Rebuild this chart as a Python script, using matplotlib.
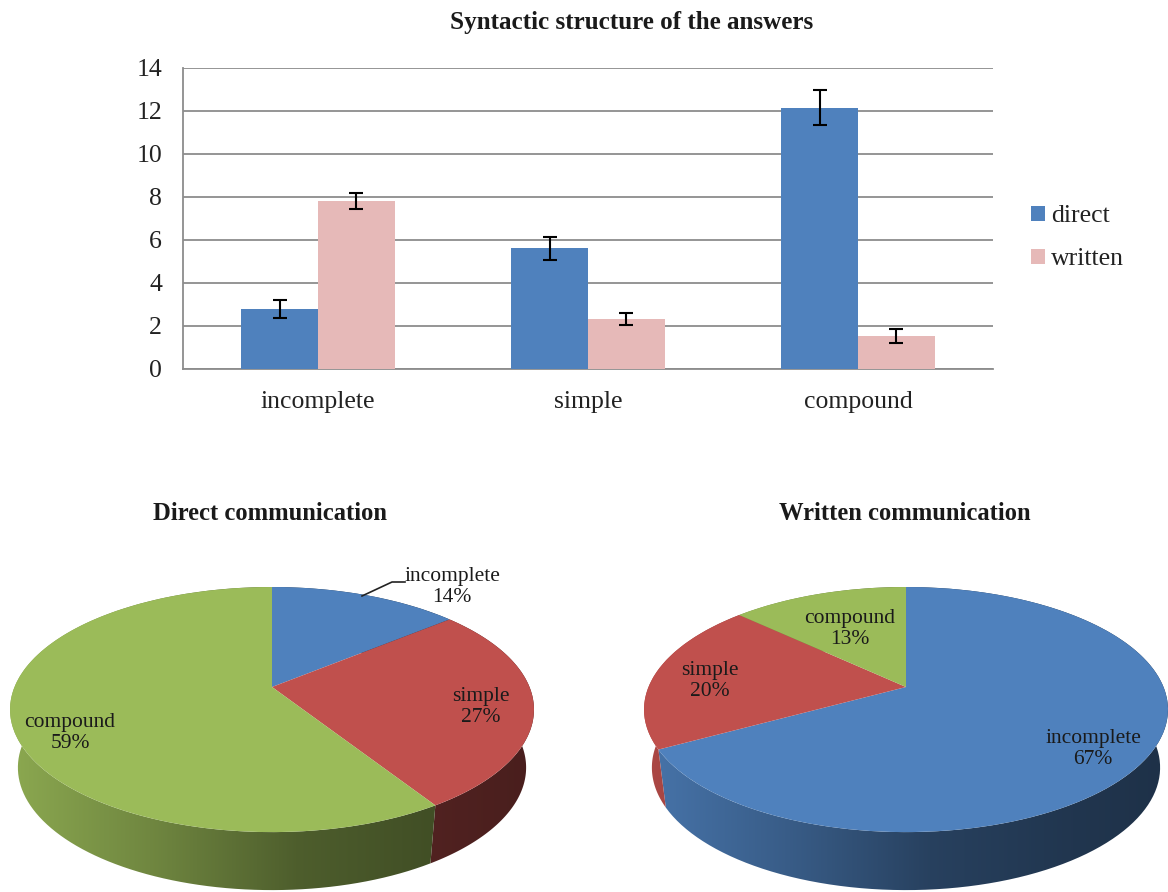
import numpy as np
import matplotlib
matplotlib.use("Agg")
import matplotlib.pyplot as plt
from matplotlib.patches import Polygon
from matplotlib.transforms import Transform

categories = ["incomplete", "simple", "compound"]
direct_values = [2.78, 5.6, 12.15]
written_values = [7.82, 2.33, 1.55]
direct_err = [0.41, 0.54, 0.81]
written_err = [0.37, 0.28, 0.33]
direct_share = [14, 27, 59]
written_share = [67, 20, 13]

BLUE = "#4f81bd"
RED = "#c0504d"
GREEN = "#9bbb59"
PINK = "#e6b9b8"
GRID = "#8c8c8c"
W, H = 1168, 892

plt.rcParams["font.family"] = ["Liberation Serif", "DejaVu Serif"]


class PiePerspective(Transform):
    """Tilts a unit-circle pie into pixel coordinates, far edge foreshortened."""
    input_dims = 2
    output_dims = 2
    has_inverse = False

    def __init__(self, cx, cy, a=257.5, b=118.4, k=0.184):
        super().__init__()
        self.cx, self.cy, self.a, self.b, self.k = cx, cy, a, b, k

    def transform_non_affine(self, values):
        values = np.asarray(values, dtype=float)
        w = 1 + self.k * values[:, 1]
        return np.column_stack((self.cx + self.a * values[:, 0] / w,
                                self.cy - self.b * values[:, 1] / w))


def draw_wall(ax, persp, start, stop, color):
    # outer side of one slice, shaded darker towards the right
    theta = np.radians(np.linspace(start, stop, 120))
    rim = np.column_stack((np.sin(theta), np.cos(theta)))
    top = persp.transform_non_affine(rim)
    low = persp.transform_non_affine(rim * [0.97, 1.0]) + [0, 58]
    clip = Polygon(np.vstack((top, low[::-1])), closed=True, transform=ax.transData)

    rel = np.linspace(0, 1, 256)
    shade = np.interp(rel, [0, 0.27, 0.55, 0.81, 1], [0.9, 0.72, 0.5, 0.42, 0.38])
    rgb = np.outer(shade, matplotlib.colors.to_rgb(color)).reshape(1, 256, 3)
    left, right = persp.cx - 262, persp.cx + 262
    im = ax.imshow(rgb, extent=(left, right, H + 40, persp.cy - 130),
                   aspect="auto", interpolation="bilinear", zorder=0)
    im.set_clip_path(clip)


def draw_pie(ax, cx, cy, shares, colors):
    persp = PiePerspective(cx, cy)
    edges = np.cumsum([0] + shares) * 3.6
    for i, color in enumerate(colors):
        draw_wall(ax, persp, edges[i], edges[i + 1], color)
    wedges, _ = ax.pie(shares, colors=colors, startangle=90, counterclock=False)
    for wedge in wedges:
        wedge.set_transform(persp + ax.transData)
        wedge.set_clip_on(False)


fig = plt.figure(figsize=(W / 100, H / 100), dpi=100)

# bar chart on top
ax = fig.add_axes([183 / W, 1 - 369 / H, 810 / W, (369 - 67.7) / H])
x = np.arange(len(categories))
bar_w = 0.285
err_style = dict(ecolor="black", elinewidth=1.5, capsize=4.8, capthick=1.5, zorder=4)
ax.bar(x - bar_w / 2, direct_values, bar_w, color=BLUE, label="direct", zorder=3,
       yerr=direct_err, error_kw=err_style)
ax.bar(x + bar_w / 2, written_values, bar_w, color=PINK, label="written", zorder=3,
       yerr=written_err, error_kw=err_style)
ax.set_xlim(-0.5, 2.5)
ax.set_ylim(0, 14)
ax.set_yticks(range(0, 15, 2))
ax.set_xticks(x)
ax.set_xticklabels(categories)
ax.tick_params(axis="both", length=0, labelsize=18.5, labelcolor="#222222")
ax.tick_params(axis="x", pad=16)
ax.tick_params(axis="y", pad=15)
ax.grid(axis="y", color=GRID, linewidth=1.3, zorder=1)
for side in ["top", "right"]:
    ax.spines[side].set_visible(False)
for side in ["left", "bottom"]:
    ax.spines[side].set_color(GRID)
    ax.spines[side].set_linewidth(1.3)
ax.legend(loc="center left", bbox_to_anchor=(1.047, 0.435), frameon=False, fontsize=18.5,
          handlelength=0.55, handleheight=0.55, handletextpad=0.22, labelspacing=0.82,
          borderaxespad=0, borderpad=0, labelcolor="#222222")

# pies share one pixel-sized overlay
over = fig.add_axes([0, 0, 1, 1])
draw_pie(over, 272, 687, direct_share, [BLUE, RED, GREEN])
draw_pie(over, 906, 687, written_share, [BLUE, RED, GREEN])
over.set_aspect("auto")
over.set_xlim(0, W)
over.set_ylim(H, 0)
over.axis("off")
over.patch.set_alpha(0)

over.plot([362, 392, 405], [596, 582, 582], color="#222222", linewidth=1.2)

direct_spots = [(452, 587), (481, 707), (70, 733)]
written_spots = [(1093, 749), (710, 681), (850, 629)]
for spots, shares in [(direct_spots, direct_share), (written_spots, written_share)]:
    for name, share, (tx, ty) in zip(categories, shares, spots):
        over.text(tx, ty, f"{name}\n{share}%", ha="center", va="center", fontsize=15.5,
                  linespacing=1.12, color="#1a1a1a")

over.text(632, 23, "Syntactic structure of the answers", ha="center", va="center",
          fontsize=18.1, fontweight="bold", color="#1a1a1a")
over.text(270, 513, "Direct communication", ha="center", va="center",
          fontsize=17.7, fontweight="bold", color="#1a1a1a")
over.text(905, 513, "Written communication", ha="center", va="center",
          fontsize=17.7, fontweight="bold", color="#1a1a1a")

fig.savefig("out.png", dpi=100)
